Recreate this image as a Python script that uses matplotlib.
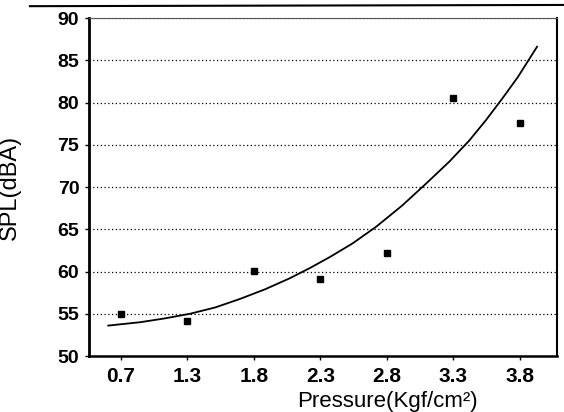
import matplotlib.pyplot as plt
import numpy as np

plt.rcParams['font.family'] = ['Liberation Sans', 'DejaVu Sans']

# pressure levels (Kgf/cm2) and measured noise level (dBA)
pressure = ['0.7', '1.3', '1.8', '2.3', '2.8', '3.3', '3.8']
spl = [55.0, 54.1, 60.1, 59.1, 62.2, 80.5, 77.6]

# fitted trend curve, read along the category axis
fit_pos = [-0.19, 0.29, 0.66, 1.04, 1.42, 1.79, 2.17, 2.54, 2.84, 3.14,
           3.48, 3.84, 4.23, 4.59, 4.94, 5.24, 5.49, 5.74, 5.97, 6.26]
fit_spl = [53.6, 54.0, 54.45, 55.0, 55.75, 56.75, 57.9, 59.2, 60.4, 61.7,
           63.3, 65.3, 67.8, 70.4, 73.0, 75.5, 77.9, 80.5, 83.0, 86.6]

yticks = [50, 55, 60, 65, 70, 75, 80, 85, 90]

fig = plt.figure(figsize=(5.64, 4.12), dpi=100)
ax = fig.add_axes([0.1578, 0.1359, 0.8298, 0.8204])

x = np.arange(len(pressure))
ax.plot(x, spl, 's', color='black', markersize=5, zorder=3)
ax.plot(fit_pos, fit_spl, '-', color='black', lw=1.3, zorder=2)

ax.set_xlim(-0.48, 6.56)
ax.set_ylim(50, 90)
ax.set_xticks(x)
ax.set_xticklabels(pressure, fontsize=15, fontweight='bold')
ax.set_yticks(yticks)
ax.set_yticklabels([str(v) for v in yticks], fontsize=14, fontweight='bold')
ax.tick_params(axis='y', length=3, width=1, pad=4)
ax.tick_params(axis='x', length=3, width=1, pad=5)

ax.grid(axis='y', color='black', linestyle=(0, (1, 2)), lw=0.9)
ax.set_axisbelow(True)

for side, lw in [('left', 2.0), ('bottom', 1.8), ('right', 1.5), ('top', 0.8)]:
    ax.spines[side].set_linewidth(lw)
ax.spines['top'].set_color('#555555')

ax.set_xlabel('Pressure(Kgf/cm²)', fontsize=16)
ax.xaxis.set_label_coords(0.637, -0.105)
ax.set_ylabel('SPL(dBA)', fontsize=17)
ax.yaxis.set_label_coords(-0.145, 0.5)

# rule across the top of the page
fig.add_artist(plt.Line2D([0.053, 1.0], [0.985, 0.988], color='black', lw=1.5,
                          transform=fig.transFigure))

fig.savefig('out.png', dpi=100)
